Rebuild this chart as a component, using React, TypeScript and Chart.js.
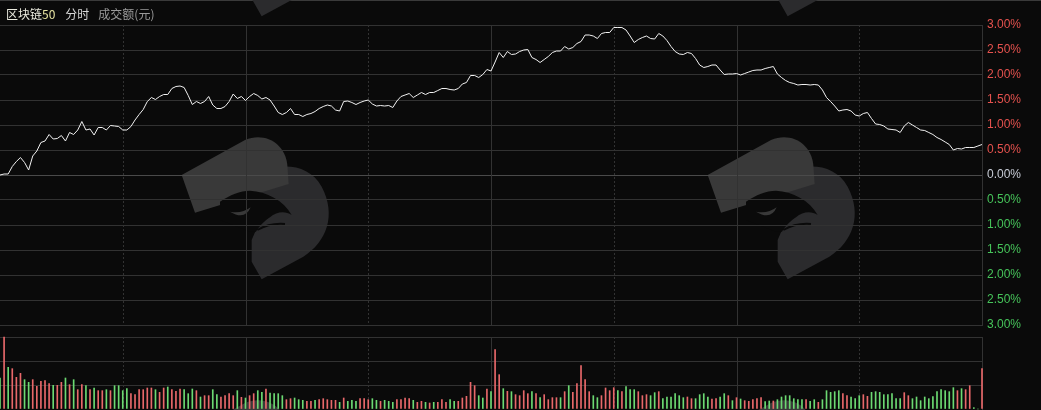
import React, { useEffect, useRef } from "react";
import { Chart, registerables } from "chart.js";

Chart.register(...registerables);

// ---- data ----
// minute index 0..240 (09:30 - 15:00), percent change vs previous close
const priceChange: number[] = [
  0.00, 0.02, 0.02, 0.17, 0.27, 0.35, 0.25, 0.10, 0.38, 0.48,
  0.65, 0.68, 0.81, 0.72, 0.73, 0.79, 0.68, 0.85, 0.81, 0.90,
  1.07, 0.90, 0.92, 0.80, 0.95, 0.95, 0.90, 0.99, 0.98, 0.97,
  0.90, 0.90, 0.97, 1.10, 1.21, 1.31, 1.47, 1.55, 1.51, 1.57,
  1.61, 1.61, 1.73, 1.77, 1.78, 1.75, 1.59, 1.41, 1.47, 1.43,
  1.47, 1.57, 1.40, 1.33, 1.33, 1.37, 1.47, 1.62, 1.53, 1.57,
  1.49, 1.57, 1.63, 1.59, 1.52, 1.55, 1.50, 1.38, 1.25, 1.21,
  1.25, 1.33, 1.21, 1.21, 1.17, 1.21, 1.23, 1.27, 1.33, 1.37,
  1.40, 1.38, 1.30, 1.28, 1.47, 1.48, 1.45, 1.41, 1.45, 1.48,
  1.50, 1.42, 1.38, 1.39, 1.38, 1.39, 1.35, 1.48, 1.57, 1.60,
  1.63, 1.55, 1.60, 1.65, 1.61, 1.65, 1.65, 1.69, 1.73, 1.73,
  1.71, 1.70, 1.73, 1.82, 1.85, 1.99, 1.99, 1.95, 2.01, 2.11,
  2.08, 2.26, 2.45, 2.35, 2.47, 2.41, 2.42, 2.47, 2.50, 2.51,
  2.35, 2.31, 2.25, 2.31, 2.37, 2.45, 2.48, 2.48, 2.57, 2.52,
  2.55, 2.63, 2.67, 2.80, 2.80, 2.78, 2.73, 2.83, 2.85, 2.85,
  2.95, 2.95, 2.95, 2.90, 2.78, 2.65, 2.71, 2.75, 2.78, 2.73,
  2.72, 2.83, 2.78, 2.69, 2.57, 2.47, 2.42, 2.41, 2.45, 2.43,
  2.33, 2.20, 2.15, 2.17, 2.20, 2.20, 2.10, 2.01, 2.02, 2.02,
  2.03, 2.00, 2.03, 2.06, 2.09, 2.10, 2.10, 2.13, 2.15, 2.17,
  2.02, 1.95, 1.89, 1.85, 1.83, 1.80, 1.81, 1.81, 1.80, 1.81,
  1.80, 1.70, 1.55, 1.47, 1.38, 1.28, 1.30, 1.31, 1.28, 1.20,
  1.18, 1.23, 1.25, 1.13, 1.02, 1.01, 0.98, 0.92, 0.91, 0.90,
  0.85, 0.98, 1.05, 1.00, 0.95, 0.90, 0.89, 0.85, 0.81, 0.75,
  0.71, 0.66, 0.61, 0.50, 0.53, 0.52, 0.55, 0.55, 0.55, 0.58,
  0.61,
];

// turnover per minute (relative units, panel top = 216)
const volume: number[] = [
  93, 216, 125, 121, 95, 107, 88, 80, 88, 68,
  83, 85, 76, 71, 71, 80, 93, 73, 88, 58,
  73, 70, 58, 63, 55, 55, 58, 55, 70, 70,
  55, 61, 46, 43, 58, 58, 63, 63, 58, 50,
  63, 66, 58, 53, 60, 58, 46, 60, 55, 36,
  40, 40, 58, 43, 36, 40, 46, 40, 55, 35,
  33, 40, 46, 55, 50, 60, 48, 46, 46, 40,
  28, 31, 33, 28, 26, 23, 23, 26, 28, 31,
  28, 26, 26, 20, 33, 23, 26, 23, 31, 31,
  28, 31, 26, 23, 26, 23, 20, 28, 28, 33,
  31, 26, 20, 23, 20, 18, 20, 20, 28, 20,
  28, 23, 23, 33, 38, 80, 70, 40, 33, 60,
  52, 178, 103, 61, 53, 52, 43, 40, 55, 46,
  52, 46, 34, 43, 28, 34, 34, 34, 52, 70,
  50, 76, 130, 88, 52, 40, 34, 40, 63, 55,
  64, 55, 52, 67, 58, 58, 52, 40, 43, 40,
  49, 52, 31, 36, 36, 46, 40, 34, 36, 31,
  31, 43, 46, 36, 30, 31, 36, 46, 40, 25,
  34, 30, 25, 23, 28, 31, 34, 22, 24, 24,
  28, 36, 40, 40, 31, 28, 28, 28, 23, 28,
  20, 28, 55, 50, 52, 55, 46, 40, 36, 31,
  40, 43, 38, 50, 52, 50, 43, 43, 46, 31,
  31, 49, 40, 31, 36, 25, 36, 31, 37, 52,
  58, 55, 52, 64, 55, 61, 58, 70, 4, 0,
  121,
];

// 1 = up minute (red), 0 = down minute (green)
const volumeUp: number[] = [
  0, 1, 0, 1, 1, 1, 0, 0, 1, 1,
  1, 1, 1, 0, 1, 1, 0, 1, 0, 1,
  1, 0, 1, 0, 1, 1, 0, 1, 0, 0,
  0, 0, 1, 1, 1, 1, 1, 1, 0, 1,
  1, 0, 1, 1, 1, 0, 0, 0, 1, 0,
  1, 1, 0, 0, 1, 1, 1, 1, 0, 1,
  0, 1, 1, 0, 0, 1, 0, 0, 0, 0,
  1, 1, 0, 0, 0, 1, 1, 0, 1, 1,
  1, 1, 1, 0, 1, 0, 0, 0, 1, 1,
  1, 0, 0, 1, 0, 0, 0, 1, 1, 1,
  1, 0, 1, 1, 0, 1, 0, 1, 1, 1,
  0, 0, 1, 1, 1, 1, 1, 0, 0, 1,
  0, 1, 1, 0, 1, 0, 1, 1, 1, 1,
  0, 1, 0, 1, 1, 1, 1, 0, 1, 0,
  1, 1, 1, 1, 1, 0, 0, 1, 1, 1,
  1, 0, 1, 0, 0, 0, 1, 1, 1, 0,
  0, 1, 0, 0, 0, 0, 0, 0, 1, 1,
  0, 0, 0, 0, 1, 1, 0, 0, 1, 0,
  1, 0, 1, 1, 1, 1, 1, 0, 0, 1,
  0, 0, 0, 0, 0, 0, 0, 1, 0, 0,
  1, 0, 0, 0, 0, 0, 1, 1, 0, 0,
  0, 1, 1, 0, 0, 0, 0, 0, 0, 0,
  0, 1, 1, 0, 0, 0, 0, 0, 0, 0,
  0, 0, 0, 0, 1, 0, 1, 1, 0, 0,
  1,
];

const priceTicks: number[] = [-3, -2.5, -2, -1.5, -1, -0.5, 0, 0.5, 1, 1.5, 2, 2.5, 3];
const sessionMinutes = 240;
const gridEvery = 30; // vertical grid every 30 minutes

// ---- styles ----
const BG = "#0a0a0a";
const GRID = "#323232";
const ZERO = "#4a4a4a";
const RED = "#e5524e";
const GREEN = "#46c35a";
const NEUTRAL = "#c8ccd6";
const BAR_RED = "#e8686a";
const BAR_GREEN = "#6cd972";
const AXIS_W = 59;
const PRICE_H = 338;
const VOL_TOP = 335;
const VOL_H = 75;

function drawLogo(ctx: CanvasRenderingContext2D, ox: number, oy: number) {
  ctx.save();
  ctx.translate(ox, oy);
  ctx.scale(1 / 3, 1 / 3);
  ctx.fillStyle = "#2b2b2d";
  ctx.beginPath();
  ctx.moveTo(240, 170);
  ctx.bezierCurveTo(310, 130, 410, 120, 455, 200);
  ctx.bezierCurveTo(500, 285, 470, 365, 400, 410);
  ctx.lineTo(275, 478);
  ctx.lineTo(245, 425);
  ctx.lineTo(245, 360);
  ctx.lineTo(262, 320);
  ctx.closePath();
  ctx.fill();
  ctx.fillStyle = "#393939";
  ctx.beginPath();
  ctx.moveTo(35, 165);
  ctx.lineTo(225, 60);
  ctx.bezierCurveTo(285, 35, 345, 70, 352, 135);
  ctx.lineTo(356, 192);
  ctx.lineTo(75, 278);
  ctx.closePath();
  ctx.fill();
  ctx.fillStyle = BG;
  ctx.beginPath();
  ctx.moveTo(150, 245);
  ctx.bezierCurveTo(180, 225, 210, 212, 240, 212);
  ctx.bezierCurveTo(290, 215, 340, 240, 365, 285);
  ctx.bezierCurveTo(345, 272, 320, 275, 300, 292);
  ctx.bezierCurveTo(285, 302, 268, 318, 258, 335);
  ctx.lineTo(240, 335);
  ctx.lineTo(150, 300);
  ctx.closePath();
  ctx.fill();
  ctx.fillStyle = "#393939";
  ctx.beginPath();
  ctx.moveTo(180, 275);
  ctx.quadraticCurveTo(215, 282, 242, 262);
  ctx.quadraticCurveTo(225, 302, 180, 275);
  ctx.fill();
  ctx.strokeStyle = BG;
  ctx.lineWidth = 6;
  ctx.beginPath();
  ctx.moveTo(262, 330);
  ctx.quadraticCurveTo(300, 308, 345, 312);
  ctx.stroke();
  ctx.restore();
}

const logoOrigins: [number, number][] = [
  [170, 120], [696, 120], [170, -143], [696, -143], [170, 383], [696, 383],
];

function watermarkPlugin(offsetY: number, maxY: number) {
  return {
    id: "watermark",
    beforeDraw(chart: any) {
      const ctx = chart.ctx as CanvasRenderingContext2D;
      ctx.save();
      ctx.beginPath();
      ctx.rect(0, 0, chart.width, maxY);
      ctx.clip();
      for (const [x, y] of logoOrigins) drawLogo(ctx, x, y - offsetY);
      ctx.restore();
    },
  };
}

const verticalGridPlugin = {
  id: "vgrid",
  beforeDatasetsDraw(chart: any) {
    const { ctx, chartArea } = chart;
    const xs = chart.scales.x;
    ctx.save();
    ctx.strokeStyle = GRID;
    ctx.lineWidth = 1;
    for (let k = 1; k * gridEvery < sessionMinutes; k++) {
      const px = Math.round(xs.getPixelForValue(k * gridEvery)) + 0.5;
      ctx.setLineDash(k % 2 === 1 ? [2, 2] : []);
      ctx.beginPath();
      ctx.moveTo(px, chartArea.top);
      ctx.lineTo(px, chartArea.bottom);
      ctx.stroke();
    }
    ctx.restore();
  },
};

export default function App() {
  const priceRef = useRef<HTMLCanvasElement | null>(null);
  const volRef = useRef<HTMLCanvasElement | null>(null);

  useEffect(() => {
    document.body.style.margin = "0";
    document.body.style.background = BG;
    const charts: Chart[] = [];

    if (priceRef.current) {
      charts.push(
        new Chart(priceRef.current, {
          type: "line",
          data: {
            datasets: [
              {
                data: priceChange.map((v, i) => ({ x: i, y: v })),
                borderColor: "#f2f2f2",
                borderWidth: 1,
                pointRadius: 0,
                tension: 0,
                fill: false,
              },
            ],
          },
          options: {
            responsive: false,
            animation: false,
            events: [],
            layout: { padding: { top: 25, bottom: 13, left: 0, right: 0 } },
            plugins: { legend: { display: false }, tooltip: { enabled: false } },
            scales: {
              x: { type: "linear", display: false, min: 0, max: sessionMinutes },
              y: {
                position: "right",
                min: priceTicks[0],
                max: priceTicks[priceTicks.length - 1],
                afterBuildTicks: (scale: any) => {
                  scale.ticks = priceTicks.map((v) => ({ value: v }));
                },
                afterFit: (scale: any) => {
                  scale.width = AXIS_W;
                },
                ticks: {
                  padding: 5,
                  font: { family: "'Liberation Sans', Arial, sans-serif", size: 12 },
                  color: (c: any) =>
                    c.tick.value > 0 ? RED : c.tick.value < 0 ? GREEN : NEUTRAL,
                  callback: (v: any) => Math.abs(Number(v)).toFixed(2) + "%",
                },
                grid: {
                  drawTicks: false,
                  color: (c: any) => (c.tick && c.tick.value === 0 ? ZERO : GRID),
                },
                border: { display: true, color: GRID },
              },
            },
          },
          plugins: [watermarkPlugin(0, VOL_TOP), verticalGridPlugin],
        } as any)
      );
    }

    if (volRef.current) {
      charts.push(
        new Chart(volRef.current, {
          type: "bar",
          data: {
            datasets: [
              {
                data: volume.map((v, i) => ({ x: i, y: v })),
                backgroundColor: volumeUp.map((u) => (u ? BAR_RED : BAR_GREEN)),
                barThickness: 1,
                borderWidth: 0,
                clip: 2,
              },
            ],
          },
          options: {
            responsive: false,
            animation: false,
            events: [],
            layout: { padding: { top: 2, bottom: 1, left: 0, right: 0 } },
            plugins: { legend: { display: false }, tooltip: { enabled: false } },
            scales: {
              x: { type: "linear", display: false, min: 0, max: sessionMinutes, offset: false },
              y: {
                position: "right",
                min: 0,
                max: 216,
                ticks: { stepSize: 72, display: false },
                afterFit: (scale: any) => {
                  scale.width = AXIS_W;
                },
                grid: {
                  drawTicks: false,
                  color: (c: any) => (c.tick && c.tick.value === 0 ? "rgba(0,0,0,0)" : GRID),
                },
                border: { display: true, color: GRID },
              },
            },
          },
          plugins: [watermarkPlugin(VOL_TOP, VOL_H), verticalGridPlugin],
        } as any)
      );
    }

    return () => charts.forEach((c) => c.destroy());
  }, []);

  const cjk = "'Noto Sans CJK SC', 'Noto Sans', sans-serif";
  return (
    <div style={{ position: "relative", width: 1041, height: 410, background: BG, overflow: "hidden" }}>
      <div style={{ position: "absolute", left: 0, top: 0, width: 1041, height: 1, background: "#3a3a3a" }} />
      <canvas
        ref={priceRef}
        width={1041}
        height={PRICE_H}
        style={{ position: "absolute", left: 0, top: 0, width: 1041, height: PRICE_H }}
      />
      <canvas
        ref={volRef}
        width={1041}
        height={VOL_H}
        style={{ position: "absolute", left: 0, top: VOL_TOP, width: 1041, height: VOL_H }}
      />
      <div
        style={{
          position: "absolute",
          left: 6,
          top: 5,
          fontFamily: cjk,
          fontSize: 12,
          lineHeight: "18px",
          whiteSpace: "nowrap",
        }}
      >
        <span style={{ color: "#ecece0" }}>区块链</span>
        <span style={{ color: "#e6e3a2" }}>50</span>
        <span style={{ color: "#d6d6d6", marginLeft: 10 }}>分时</span>
        <span style={{ color: "#9a9a9a", marginLeft: 9 }}>成交额(元)</span>
      </div>
    </div>
  );
}
